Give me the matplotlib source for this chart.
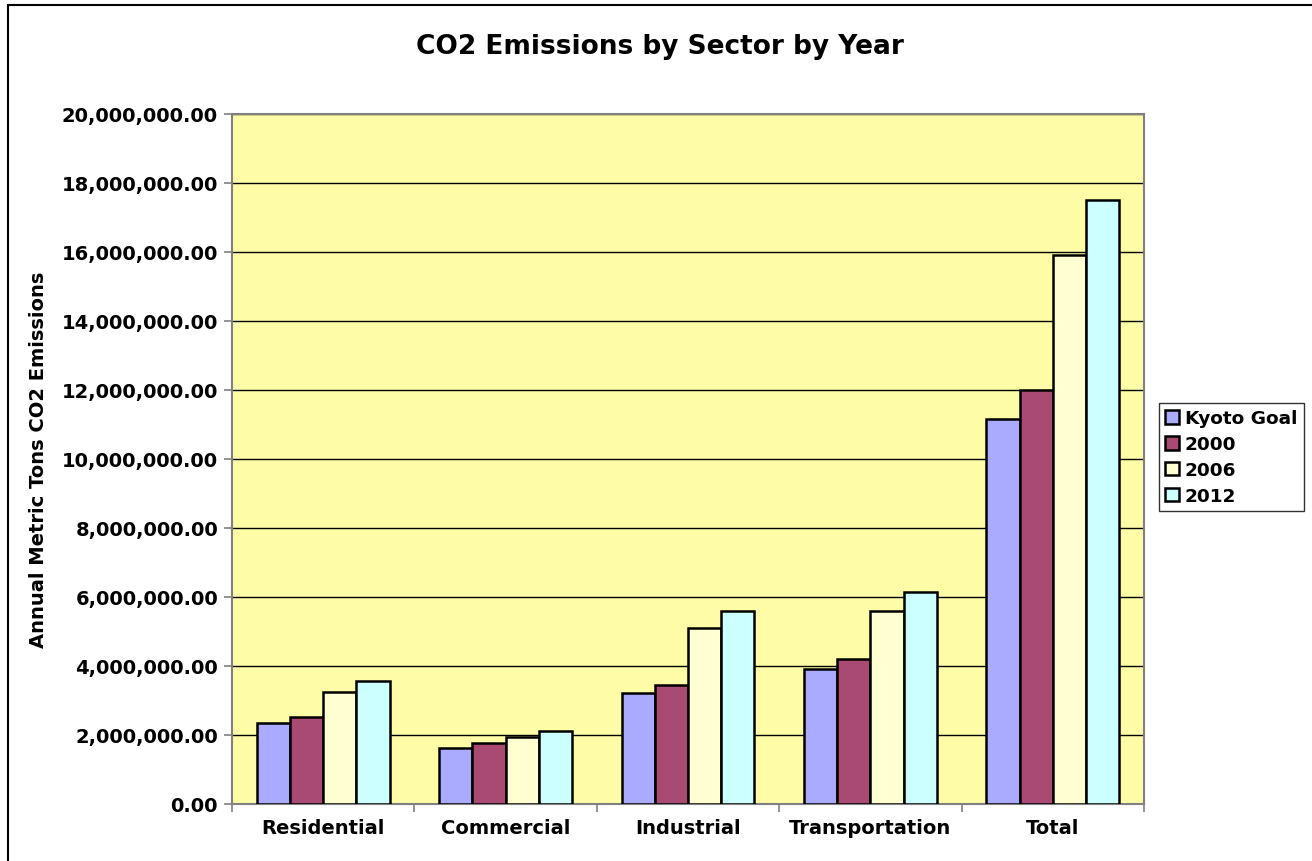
import numpy as np
import matplotlib
matplotlib.use("Agg")
import matplotlib.pyplot as plt
from matplotlib.patches import Rectangle
from matplotlib.ticker import FuncFormatter, FixedLocator

# Dados
sectors = ["Residential", "Commercial", "Industrial", "Transportation", "Total"]
series_names = ["Kyoto Goal", "2000", "2006", "2012"]
kyoto = [2360000, 1630000, 3220000, 3910000, 11160000]
y2000 = [2520000, 1770000, 3450000, 4200000, 11990000]
y2006 = [3250000, 1950000, 5090000, 5590000, 15900000]
y2012 = [3560000, 2130000, 5600000, 6150000, 17500000]
colors = ["#AAAAFF", "#A94A73", "#FFFFD2", "#CCFFFF"]

plt.rcParams['font.family'] = ['DejaVu Sans']
plt.rcParams['font.weight'] = 'bold'

fig = plt.figure(figsize=(13.12, 8.62), dpi=100)
ax = fig.add_axes([232 / 1312, 57 / 862, 912 / 1312, 690 / 862])
ax.set_facecolor("#FFFCA8")

x = np.arange(len(sectors))
width = 1 / 5.5
all_series = [kyoto, y2000, y2006, y2012]
for i, (vals, name) in enumerate(zip(all_series, series_names)):
    ax.bar(x + (i - 1.5) * width, vals, width, color=colors[i], edgecolor="black",
           linewidth=1.8, label=name, zorder=3)

ax.set_xlim(-0.5, len(sectors) - 0.5)
ax.set_ylim(0, 20000000)
ax.set_yticks(np.arange(0, 20000001, 2000000))
ax.yaxis.set_major_formatter(FuncFormatter(lambda v, p: f"{v:,.2f}"))
ax.yaxis.grid(True, color="black", linewidth=1.0, zorder=1)
ax.set_axisbelow(True)

# ticks do eixo x nos limites dos grupos, rótulos no centro
ax.xaxis.set_major_locator(FixedLocator(np.arange(-0.5, len(sectors), 1.0)))
ax.xaxis.set_minor_locator(FixedLocator(x))
ax.set_xticklabels([""] * (len(sectors) + 1))
ax.set_xticklabels(sectors, minor=True)
ax.tick_params(axis="x", which="minor", length=0, pad=10, labelsize=14)
ax.tick_params(axis="x", which="major", length=6, color="#808080", width=1.2)
ax.tick_params(axis="y", length=6, color="#808080", width=1.2, labelsize=14, pad=4)

for s in ["left", "bottom", "top", "right"]:
    ax.spines[s].set_color("#808080")
    ax.spines[s].set_linewidth(1.5)

ax.set_ylabel("Annual Metric Tons CO2 Emissions", fontsize=14, fontweight="bold", labelpad=10)
fig.text(0.503, 0.945, "CO2 Emissions by Sector by Year", ha="center", va="center",
         fontsize=19, fontweight="bold")

leg = fig.legend(loc="upper left", bbox_to_anchor=(1159 / 1312, 1 - 404 / 862),
                 fontsize=13.3, frameon=True, fancybox=False, edgecolor="black",
                 handlelength=0.75, handleheight=0.75, handletextpad=0.3,
                 borderpad=0.35, labelspacing=0.42, borderaxespad=0)
leg.get_frame().set_linewidth(1.0)

# moldura externa do gráfico
fig.patches.append(Rectangle((8 / 1312, -0.1), 1.2, 1 - 6 / 862 + 0.1,
                             transform=fig.transFigure, fill=False,
                             edgecolor="black", linewidth=1.5))

fig.savefig("out.png", dpi=100)
